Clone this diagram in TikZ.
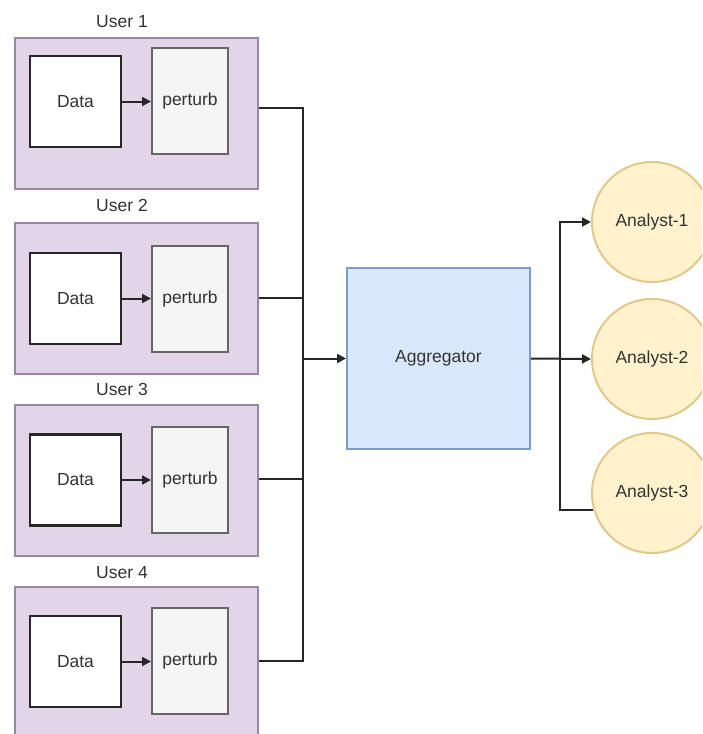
\documentclass[tikz,border=0pt]{standalone}
\usepackage{fontspec}
\setmainfont{Liberation Sans}
\usetikzlibrary{arrows.meta,calc}
\definecolor{userfill}{HTML}{E1D5E7}
\definecolor{userdraw}{HTML}{9A86A6}
\definecolor{pfill}{HTML}{F5F5F5}
\definecolor{pdraw}{HTML}{666666}
\definecolor{aggfill}{HTML}{DAE8FC}
\definecolor{aggdraw}{HTML}{7E9CC6}
\definecolor{anfill}{HTML}{FFF2CC}
\definecolor{andraw}{HTML}{E0C98A}
\definecolor{txt}{HTML}{333333}
\begin{document}
\begin{tikzpicture}[x=1pt,y=-1pt,
  every node/.style={font=\fontsize{17.5}{20}\selectfont, text=txt},
  userbox/.style={draw=userdraw, fill=userfill, line width=2pt, minimum width=243pt, minimum height=151pt, inner sep=0pt},
  databox/.style={draw=black!85, fill=white, line width=2.2pt, minimum width=91pt, minimum height=91pt, inner sep=0pt},
  pbox/.style={draw=pdraw, fill=pfill, line width=2pt, minimum width=76pt, minimum height=106pt, inner sep=0pt},
  aggbox/.style={draw=aggdraw, fill=aggfill, line width=2pt, minimum width=183pt, minimum height=181pt, inner sep=0pt},
  anbox/.style={circle, draw=andraw, fill=anfill, line width=2pt, minimum size=120pt, inner sep=0pt},
  wire/.style={draw=black!85, line width=2pt},
  arr/.style={wire, -{Triangle[length=9pt,width=9pt]}}
]
\clip (0,0) rectangle (702,734);
\fill[white] (0,0) rectangle (702,734);

% Users
\node[userbox] (u1) at (136.5,113.5) {};
\node[userbox] (u2) at (136.5,298) {};
\node[userbox] (u3) at (136.5,480.5) {};
\node[userbox] (u4) at (136.5,662.5) {};

\node (l1) at (122,22) {User 1};
\node (l2) at (122,205) {User 2};
\node (l3) at (122,389) {User 3};
\node (l4) at (122,573) {User 4};

\node[databox] (d1) at (75.5,101.5) {Data};
\node[pbox] (p1) at (190,101) {perturb};
\node[databox] (d2) at (75.5,298.5) {Data};
\node[pbox] (p2) at (190,298.5) {perturb};
\node[databox] (d3) at (75.5,480) {Data};
\node[pbox] (p3) at (190,480) {perturb};
\node[databox] (d4) at (75.5,661.5) {Data};
\node[pbox] (p4) at (190,661) {perturb};

\foreach \i in {1,2,3,4}{
  \draw[arr] (d\i.east) -- (d\i.east -| p\i.west);
}

% Aggregator
\node[aggbox] (agg) at (438.5,358.5) {Aggregator};
\coordinate (bus) at (303,358.5);
\coordinate (split) at (560,358.5);

\draw[wire] ([yshift=5.5pt]u1.east) -| (bus);
\draw[wire] (u2.east) -| (bus);
\draw[wire] ([yshift=1.5pt]u3.east) -| (bus);
\draw[wire] ([yshift=1.5pt]u4.east) -| (bus);
\draw[arr] (bus) -- (agg.west);

% Analysts
\node[anbox] (a1) at (652,222) {Analyst-1};
\node[anbox] (a2) at (652,359) {Analyst-2};
\node[anbox] (a3) at (652,493) {Analyst-3};

\draw[arr] (agg.east) -- (a2.west);
\draw[arr] (split) |- (a1.west);
\draw[wire] (split) |- (a3.196);
\end{tikzpicture}
\end{document}
